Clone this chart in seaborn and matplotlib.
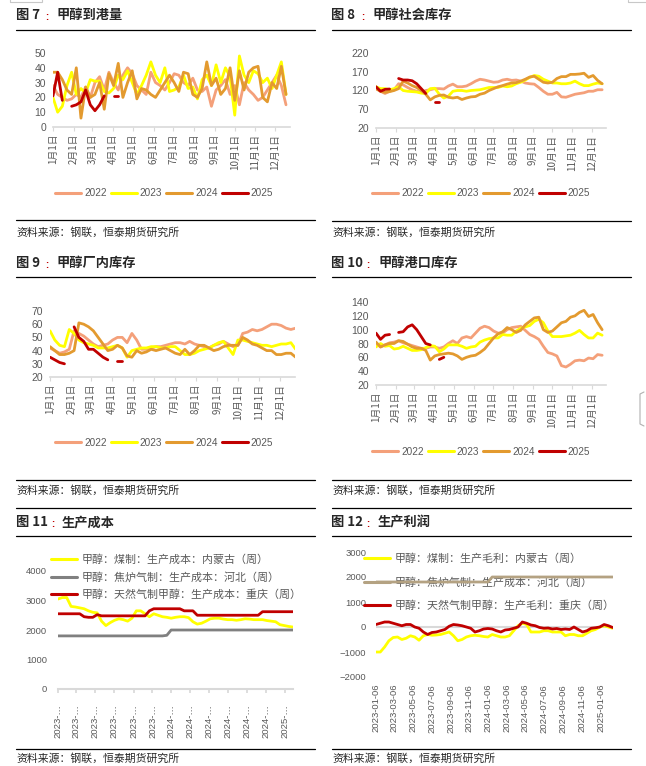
import numpy as np
import pandas as pd
import matplotlib
matplotlib.use('Agg')
import matplotlib.pyplot as plt
import matplotlib.dates as mdates
from matplotlib.lines import Line2D
from matplotlib.patches import Rectangle
import seaborn as sns

nan = np.nan

# ---- 图7 甲醇到港量 (万吨, 周度) ----
arrive_2022 = [28, 22, 20, 18, 19, 22, 20, 27, 20, 30, 34, 25, 37, 30, 25, 35, 40, 36, 28, 25,
               22, 37, 30, 28, 25, 30, 36, 35, 30, 28, 33, 25, 24, 27, 14, 25, 28, 32, 22, 28,
               15, 30, 25, 22, 18, 20, 25, 30, 35, 28, 15]
arrive_2023 = [20, 10, 14, 28, 37, 22, 26, 23, 32, 31, 31, 24, 23, 26, 35, 32, 38, 30, 22, 28,
               35, 44, 35, 30, 40, 24, 25, 27, 35, 26, 27, 19, 32, 35, 28, 42, 30, 40, 34, 8,
               48, 35, 30, 38, 36, 30, 33, 26, 35, 44, 22]
arrive_2024 = [37, 37, 32, 25, 22, 40, 6, 27, 20, 22, 30, 12, 36, 28, 43, 20, 30, 38, 19, 26,
               25, 22, 20, 25, 30, 35, 30, 24, 37, 36, 22, 20, 26, 44, 28, 33, 22, 26, 40, 18,
               38, 25, 37, 40, 41, 20, 17, 30, 26, 41, 22]
arrive_2025 = [21, 37, 18, nan, 14, 15, 17, 25, 15, 11, 15, 21, nan, 21, 21]

# ---- 图8 甲醇社会库存 ----
social_2022 = [125, 118, 112, 118, 122, 138, 135, 128, 122, 118, 115, 120, 122, 125, 125, 124, 132,
               137, 130, 130, 132, 138, 145, 150, 148, 145, 142, 143, 148, 150, 147, 148, 145, 140,
               138, 137, 128, 118, 110, 110, 115, 103, 102, 106, 110, 112, 114, 118, 118, 122, 122]
social_2023 = [130, 125, 125, 122, 125, 130, 120, 118, 117, 116, 113, 112, 125, 126, 110, 100, 105,
               118, 120, 120, 118, 120, 121, 122, 125, 128, 128, 128, 132, 130, 132, 138, 142, 148,
               155, 160, 158, 150, 145, 140, 140, 138, 138, 140, 145, 138, 133, 133, 137, 140, 138]
social_2024 = [125, 118, 115, 117, 120, 125, 145, 140, 133, 128, 120, 110, 95, 103, 107, 108, 102,
               100, 102, 96, 100, 103, 104, 110, 113, 120, 125, 130, 133, 137, 140, 141, 145, 150,
               156, 158, 150, 142, 140, 142, 152, 157, 157, 163, 163, 164, 166, 155, 160, 147, 138]
social_2025 = [130, 118, 123, 124, nan, 152, 148, 148, 146, 138, 125, 112, nan, 90, 90]

# ---- 图9 甲醇厂内库存 ----
plant_2022 = [42, 40, 38, 39, 41, 55, 53, 51, 48, 45, 43, 44, 45, 48, 50, 50, 46, 53, 48, 41,
              41, 42, 43, 43, 44, 45, 46, 46, 45, 47, 45, 44, 43, 42, 44, 45, 47, 45, 43, 44,
              53, 54, 56, 55, 56, 58, 60, 60, 59, 57, 56, 57]
plant_2023 = [55, 48, 44, 43, 56, 53, 48, 46, 45, 44, 42, 42, 42, 43, 44, 42, 35, 40, 41, 42,
              42, 43, 43, 42, 42, 43, 43, 40, 37, 37, 38, 40, 41, 42, 44, 46, 47, 42, 37, 48,
              48, 47, 46, 45, 44, 44, 43, 44, 45, 45, 46, 41]
plant_2024 = [43, 40, 37, 37, 38, 40, 61, 60, 58, 55, 50, 45, 40, 41, 44, 42, 36, 35, 40, 38,
              39, 41, 40, 41, 42, 40, 38, 37, 41, 37, 40, 44, 44, 42, 40, 41, 43, 44, 44, 44,
              50, 48, 45, 44, 42, 40, 40, 37, 37, 38, 38, 35]
plant_2025 = [35, 33, 31, 30, nan, 58, 50, 47, 41, 41, 38, 35, 33, nan, 32, 32]

# ---- 图10 甲醇港口库存 ----
port_2022 = [80, 75, 78, 81, 82, 84, 81, 79, 77, 75, 73, 73, 75, 75, 73, 75, 80, 84, 80, 88,
             90, 88, 95, 102, 105, 103, 98, 95, 95, 100, 103, 104, 105, 99, 93, 90, 86, 76, 67, 65,
             62, 48, 46, 50, 55, 56, 55, 59, 58, 64, 63]
port_2023 = [75, 80, 76, 77, 72, 73, 76, 73, 70, 70, 71, 74, 77, 76, 68, 72, 78, 78, 78, 76,
             73, 75, 76, 82, 85, 87, 88, 88, 93, 92, 92, 98, 102, 104, 106, 112, 115, 110, 98, 90,
             90, 90, 91, 92, 95, 99, 93, 88, 88, 95, 92]
port_2024 = [82, 75, 78, 80, 80, 84, 83, 79, 75, 73, 73, 70, 56, 62, 64, 65, 66, 65, 62, 57,
             60, 62, 63, 67, 72, 80, 88, 94, 97, 103, 100, 96, 99, 107, 112, 117, 118, 100, 96, 98,
             104, 110, 112, 118, 120, 125, 128, 119, 122, 110, 100]
port_2025 = [95, 86, 92, 93, nan, 96, 97, 104, 107, 100, 90, 80, 78, nan, 57, 60]

# ---- 图11 生产成本 (双周, 2023-01-06 起) ----
cost_coal_nm = [3050, 3100, 3100, 2800, 2780, 2750, 2720, 2650, 2600, 2580, 2300, 2150, 2250, 2330,
                2380, 2350, 2300, 2400, 2650, 2650, 2550, 2450, 2550, 2500, 2450, 2430, 2400, 2430,
                2450, 2450, 2420, 2280, 2200, 2230, 2300, 2380, 2400, 2400, 2370, 2350, 2350, 2330,
                2350, 2380, 2370, 2350, 2350, 2350, 2320, 2300, 2280, 2180, 2150, 2120, 2100]
cost_coke_hb = [1800, 1800, 1800, 1800, 1800, 1800, 1800, 1800, 1800, 1800, 1800, 1800, 1800, 1800,
                1800, 1800, 1800, 1800, 1800, 1800, 1800, 1800, 1800, 1800, 1800, 1820, 2000, 2000,
                2000, 2000, 2000, 2000, 2000, 2000, 2000, 2000, 2000, 2000, 2000, 2000, 2000, 2000,
                2000, 2000, 2000, 2000, 2000, 2000, 2000, 2000, 2000, 2000, 2000, 2000, 2000]
cost_gas_cq = [2550, 2550, 2550, 2550, 2550, 2550, 2450, 2430, 2430, 2520, 2480, 2480, 2480, 2480,
               2480, 2480, 2480, 2480, 2480, 2480, 2480, 2650, 2720, 2720, 2720, 2720, 2720, 2720,
               2720, 2650, 2650, 2650, 2500, 2500, 2500, 2500, 2500, 2500, 2500, 2500, 2500, 2500,
               2500, 2500, 2500, 2500, 2500, 2620, 2620, 2620, 2620, 2620, 2620, 2620, 2620]

# ---- 图12 生产利润 (双周, 2023-01-06 起) ----
profit_coal_nm = [-1000, -1000, -800, -550, -420, -400, -500, -450, -350, -400, -530, -350, -300, -330,
                  -320, -300, -250, -200, -350, -550, -500, -400, -350, -330, -350, -380, -400, -300,
                  -350, -400, -400, -350, -150, 50, 150, 100, -200, -200, -200, -150, -150, -200,
                  -200, -200, -350, -300, -300, -350, -350, -250, -150, -100, 0, 50, 0, -50]
cost_coke_hb2 = [1800, 1800, 1800, 1800, 1800, 1800, 1800, 1800, 1800, 1800, 1800, 1800, 1800, 1800,
                 1800, 1800, 1800, 1800, 1800, 1800, 1800, 1800, 1800, 1800, 1800, 1800, 1800, 2000,
                 2000, 2000, 2000, 2000, 2000, 2000, 2000, 2000, 2000, 2000, 2000, 2000, 2000, 2000,
                 2000, 2000, 2000, 2000, 2000, 2000, 2000, 2000, 2000, 2000, 2000, 2000, 2000, 2000]
profit_gas_cq = [100, 150, 200, 200, 150, 100, 50, 100, 100, 0, -50, -200, -300, -220,
                 -200, -150, -100, 30, 100, 80, 50, 0, -50, -200, -150, -80, -60, -80,
                 -150, -200, -120, -100, -50, 0, 200, 150, 80, 50, -20, -50, -40, -80,
                 -60, -100, -80, -100, 0, -100, -200, -150, -50, -30, 0, 100, 50, -20]

YEARS = ['2022', '2023', '2024', '2025']
YEAR_COLORS = ['#f4a07a', '#ffff00', '#e39a2f', '#c00000']
MONTH_LABELS = [f'{m}月1日' for m in range(1, 13)]

SRC = '资料来源：钢联，恒泰期货研究所'
GRAY_TXT = '#595959'
AXIS_GRAY = '#d9d9d9'

sns.set_theme(style='white')
plt.rcParams['font.family'] = ['Liberation Sans', 'Noto Sans CJK SC', 'DejaVu Sans']
CJK = ['Noto Sans CJK SC', 'DejaVu Sans']

W, H = 646, 766
fig = plt.figure(figsize=(W / 100, H / 100), dpi=100)


def fx(x):
    return x / W


def fy(y):
    return 1 - y / H


def make_axes(x0, y0, x1, y1):
    return fig.add_axes([fx(x0), fy(y1), (x1 - x0) / W, (y1 - y0) / H])


def rule(y, x0, x1, color='black', lw=0.9):
    fig.add_artist(Line2D([fx(x0), fx(x1)], [fy(y), fy(y)], color=color, lw=lw,
                          transform=fig.transFigure))


def title(xs, y, num, text):
    fig.text(fx(xs[0]), fy(y), num, fontsize=9.5, fontweight='bold', family=CJK, va='center')
    fig.text(fx(xs[1]), fy(y + 2), ':', fontsize=7, fontweight='bold', color='#c00000', va='center')
    fig.text(fx(xs[2]), fy(y), text, fontsize=9.5, fontweight='bold', family=CJK, va='center')


def source(x, y):
    fig.text(fx(x), fy(y), SRC, fontsize=7.8, family=CJK, va='center')


def draw_line(ax, x, y, color, lw=2.0, zorder=2):
    """画线, 遇到缺失值断开"""
    df = pd.DataFrame({'x': np.asarray(x, dtype=float), 'y': np.asarray(y, dtype=float)})
    ok = df['y'].notna()
    seg_id = (~ok).cumsum()
    for _, seg in df[ok].groupby(seg_id[ok]):
        if len(seg) < 2:
            continue
        sns.lineplot(data=seg, x='x', y='y', ax=ax, color=color, linewidth=lw,
                     estimator=None, sort=False, legend=False, zorder=zorder)


def year_panel(box, series, yticks, legend_xy):
    ax = make_axes(*box)
    for vals, color in zip(series, YEAR_COLORS):
        days = 1 + 7 * np.arange(len(vals))
        draw_line(ax, days, vals, color)
    ax.set_xlim(1, 357)
    ax.set_ylim(yticks[0], yticks[-1])
    ax.set_yticks(yticks)
    month_days = pd.date_range('2022-01-01', periods=12, freq='MS').dayofyear
    ax.set_xticks(month_days)
    ax.set_xticklabels(MONTH_LABELS, rotation=90, family=CJK)
    ax.set_xlabel('')
    ax.set_ylabel('')
    sns.despine(ax=ax, left=True)
    ax.spines['bottom'].set_color(AXIS_GRAY)
    ax.spines['bottom'].set_linewidth(1.2)
    ax.tick_params(axis='x', length=3, width=0.8, color=AXIS_GRAY, labelsize=7,
                   labelcolor=GRAY_TXT, pad=2, bottom=True)
    ax.tick_params(axis='y', length=0, labelsize=7.5, labelcolor=GRAY_TXT, pad=5)
    handles = [Line2D([], [], color=c, lw=2.2) for c in YEAR_COLORS]
    ax.legend(handles, YEARS, ncol=4, loc='center', frameon=False,
              bbox_to_anchor=(fx(legend_xy[0]), fy(legend_xy[1])), bbox_transform=fig.transFigure,
              fontsize=7.2, handlelength=2.6, handletextpad=0.3, columnspacing=0.4,
              labelcolor=GRAY_TXT)
    return ax


# ---------------- 图7 / 图8 ----------------
title((16, 45, 56), 15, '图 7', '甲醇到港量')
rule(30, 16, 315)
year_panel((53, 53, 290, 127), [arrive_2022, arrive_2023, arrive_2024, arrive_2025],
           [0, 10, 20, 30, 40, 50], (164, 193))
rule(220, 16, 315)
source(16, 232)

title((331, 361, 372), 15, '图 8', '甲醇社会库存')
rule(30, 332, 631)
year_panel((376, 53, 606, 128), [social_2022, social_2023, social_2024, social_2025],
           [20, 70, 120, 170, 220], (481, 193))
rule(221, 332, 631)
source(332, 232)

# ---------------- 图9 / 图10 ----------------
title((16, 45, 56), 263, '图 9', '甲醇厂内库存')
rule(277, 16, 315)
year_panel((50, 311, 295, 377), [plant_2022, plant_2023, plant_2024, plant_2025],
           [20, 30, 40, 50, 60, 70], (164, 443))
rule(480, 16, 315)
source(16, 490)

title((331, 366, 378), 263, '图 10', '甲醇港口库存')
rule(277, 332, 631)
year_panel((376, 302, 606, 385), [port_2022, port_2023, port_2024, port_2025],
           [20, 40, 60, 80, 100, 120, 140], (481, 452))
rule(480, 332, 631)
source(332, 490)
rule(508, 16, 315)
rule(508, 332, 631)

# ---------------- 图11 生产成本 ----------------
start = pd.Timestamp('2023-01-06')
tick_dates = pd.date_range(start, periods=13, freq=pd.DateOffset(months=2))

title((16, 51, 62), 522, '图 11', '生产成本')
rule(536, 16, 315)
ax5 = make_axes(58, 571, 293, 689)
dates5 = mdates.date2num(pd.date_range(start, periods=len(cost_coal_nm), freq='14D'))
cost_names = ['甲醇：煤制：生产成本：内蒙古（周）', '甲醇：焦炉气制：生产成本：河北（周）',
              '甲醇：天然气制甲醇：生产成本：重庆（周）']
cost_colors = ['#ffff00', '#808080', '#c00000']
for vals, color in zip([cost_coal_nm, cost_coke_hb, cost_gas_cq], cost_colors):
    draw_line(ax5, dates5, vals, color)
ax5.set_xlim(dates5[0], dates5[-1])
ax5.set_ylim(0, 4000)
ax5.set_yticks([0, 1000, 2000, 3000, 4000])
ax5.set_xticks(mdates.date2num(tick_dates))
ax5.set_xticklabels([f'{d.year}-…' for d in tick_dates], rotation=90)
ax5.set_xlabel('')
ax5.set_ylabel('')
sns.despine(ax=ax5, left=True)
ax5.spines['bottom'].set_color(AXIS_GRAY)
ax5.spines['bottom'].set_linewidth(1.5)
ax5.tick_params(axis='x', length=3, color=AXIS_GRAY, labelsize=6.8, labelcolor=GRAY_TXT,
                pad=8, bottom=True)
ax5.tick_params(axis='y', length=0, labelsize=6.8, labelcolor=GRAY_TXT, pad=8)
ax5.legend([Line2D([], [], color=c, lw=2.2) for c in cost_colors], cost_names,
           loc='upper left', bbox_to_anchor=(fx(46), fy(549)), bbox_transform=fig.transFigure,
           frameon=False, borderpad=0, handlelength=2.3, handletextpad=0.45,
           labelspacing=0.6, labelcolor=GRAY_TXT, prop={'family': CJK, 'size': 7.9})
rule(749, 16, 315)
source(16, 758)

# ---------------- 图12 生产利润 ----------------
title((331, 366, 378), 522, '图 12', '生产利润')
rule(536, 332, 631)
ax6 = make_axes(376, 552, 613, 677)
dates6 = mdates.date2num(pd.date_range(start, periods=len(profit_coal_nm), freq='14D'))
profit_names = ['甲醇：煤制：生产毛利：内蒙古（周）', '甲醇：焦炉气制：生产成本：河北（周）',
                '甲醇：天然气制甲醇：生产毛利：重庆（周）']
profit_colors = ['#ffff00', '#b4a282', '#c00000']
ax6.axhline(0, color=AXIS_GRAY, lw=1.5, zorder=1.5)
for vals, color in zip([profit_coal_nm, cost_coke_hb2, profit_gas_cq], profit_colors):
    draw_line(ax6, dates6, vals, color, zorder=3)
ax6.set_xlim(dates6[0], dates6[-1] + 1)
ax6.set_ylim(-2000, 3000)
ax6.set_yticks([-2000, -1000, 0, 1000, 2000, 3000])
ax6.set_xticks(mdates.date2num(tick_dates))
ax6.set_xticklabels([d.strftime('%Y-%m-%d') for d in tick_dates], rotation=90)
ax6.set_xlabel('')
ax6.set_ylabel('')
sns.despine(ax=ax6, left=True, bottom=True)
ax6.tick_params(axis='x', length=0, labelsize=6.8, labelcolor=GRAY_TXT, pad=5, bottom=True)
ax6.tick_params(axis='y', length=0, labelsize=6.8, labelcolor=GRAY_TXT, pad=7)
leg6 = ax6.legend([Line2D([], [], color=c, lw=2.2) for c in profit_colors], profit_names,
                  loc='upper left', bbox_to_anchor=(fx(359), fy(548)), bbox_transform=fig.transFigure,
                  frameon=False, borderpad=0, handlelength=2.3, handletextpad=0.45,
                  labelspacing=1.15, labelcolor=GRAY_TXT, prop={'family': CJK, 'size': 7.9})
leg6.set_zorder(2.5)
rule(749, 332, 631)
source(332, 758)

# 页面边缘的小残留框线
fig.add_artist(Rectangle((fx(10), fy(2)), fx(32), 3 / H, fill=False, edgecolor='#c8c8c8',
                         lw=0.8, transform=fig.transFigure))
fig.add_artist(Line2D([fx(628), fx(628), fx(646)], [fy(0), fy(2), fy(2)], color='#c8c8c8',
                      lw=0.8, transform=fig.transFigure))
fig.add_artist(Line2D([fx(644), fx(640), fx(640), fx(644)], [fy(392), fy(394), fy(424), fy(426)],
                      color='#b0b0b0', lw=0.8, transform=fig.transFigure))

fig.savefig('out.png', dpi=100)
